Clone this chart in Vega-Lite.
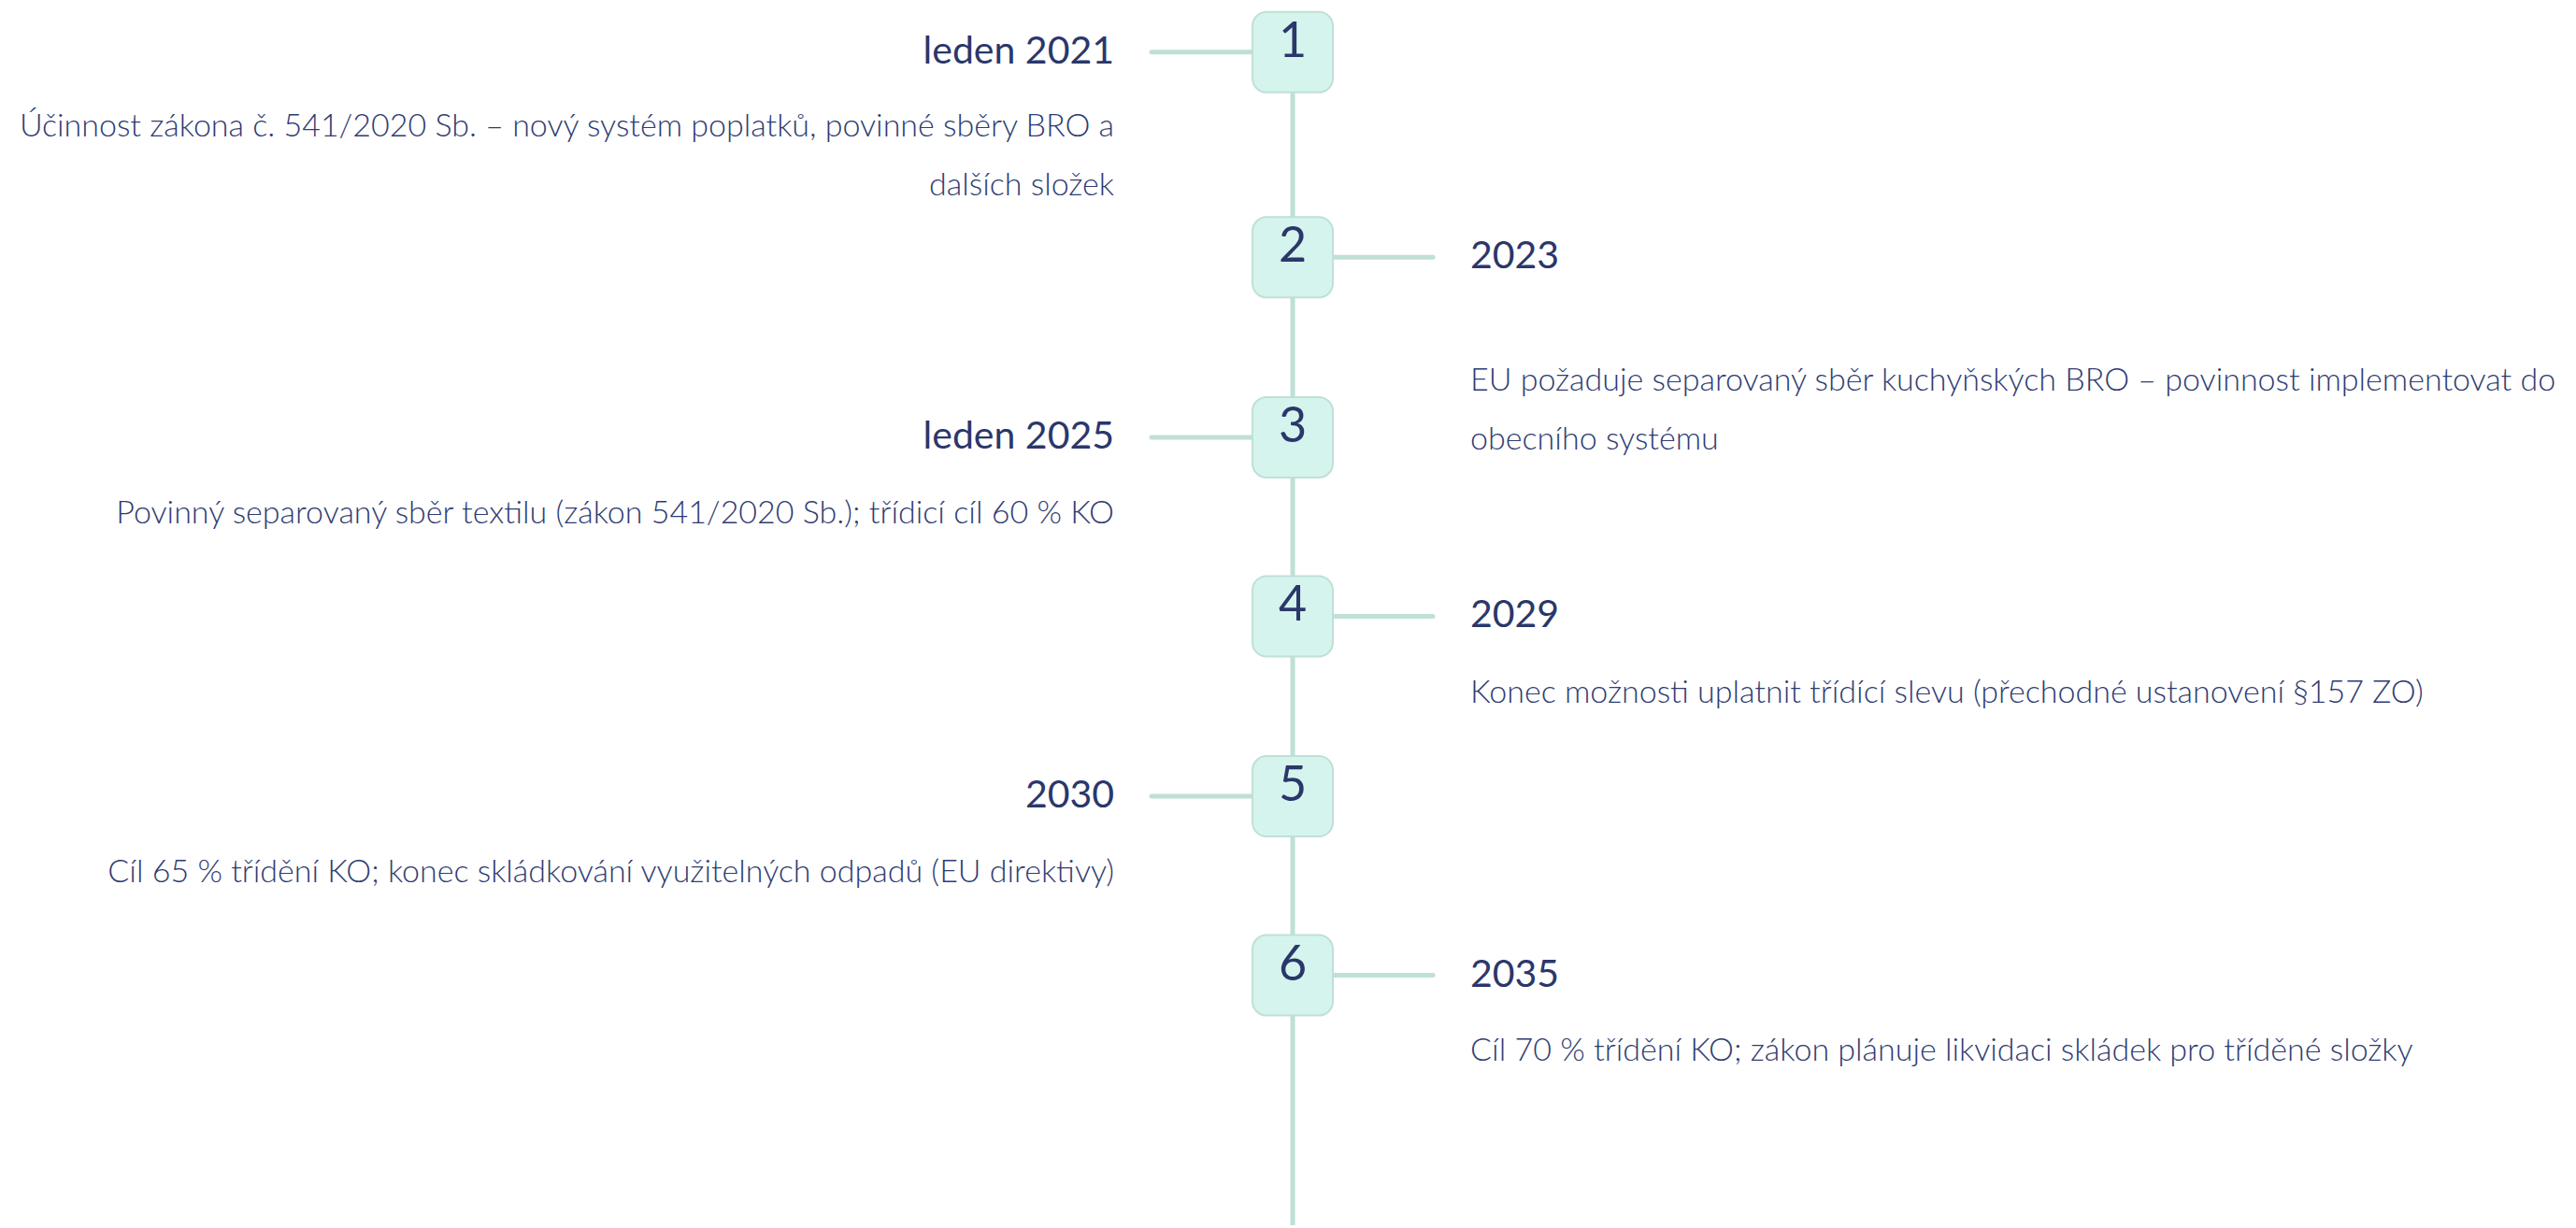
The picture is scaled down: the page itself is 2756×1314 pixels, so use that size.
{
  "$schema": "https://vega.github.io/schema/vega-lite/v6.json",
  "width": 2756,
  "height": 1314,
  "autosize": {"type": "fit", "contains": "padding"},
  "padding": 0,
  "background": "white",
  "config": {"view": {"stroke": null}},
  "datasets": {
    "items": [
      {"n": "1", "title": "leden 2021", "side": "left", "pos": 56, "tx": 1192, "c1": 1232, "c2": 1340},
      {"n": "2", "title": "2023", "side": "right", "pos": 276, "tx": 1573, "c1": 1426, "c2": 1533},
      {"n": "3", "title": "leden 2025", "side": "left", "pos": 469, "tx": 1192, "c1": 1232, "c2": 1340},
      {"n": "4", "title": "2029", "side": "right", "pos": 661, "tx": 1573, "c1": 1426, "c2": 1533},
      {"n": "5", "title": "2030", "side": "left", "pos": 854, "tx": 1192, "c1": 1232, "c2": 1340},
      {"n": "6", "title": "2035", "side": "right", "pos": 1046, "tx": 1573, "c1": 1426, "c2": 1533}
    ],
    "lines": [
      {"side": "left", "pos": 136, "tx": 1192, "text": "Účinnost zákona č. 541/2020 Sb. – nový systém poplatků, povinné sběry BRO a"},
      {"side": "left", "pos": 199, "tx": 1192, "text": "dalších složek"},
      {"side": "right", "pos": 409, "tx": 1573, "text": "EU požaduje separovaný sběr kuchyňských BRO – povinnost implementovat do"},
      {"side": "right", "pos": 472, "tx": 1573, "text": "obecního systému"},
      {"side": "left", "pos": 551, "tx": 1192, "text": "Povinný separovaný sběr textilu (zákon 541/2020 Sb.); třídicí cíl 60 % KO"},
      {"side": "right", "pos": 744, "tx": 1573, "text": "Konec možnosti uplatnit třídící slevu (přechodné ustanovení §157 ZO)"},
      {"side": "left", "pos": 936, "tx": 1192, "text": "Cíl 65 % třídění KO; konec skládkování využitelných odpadů (EU direktivy)"},
      {"side": "right", "pos": 1128, "tx": 1573, "text": "Cíl 70 % třídění KO; zákon plánuje likvidaci skládek pro tříděné složky"}
    ],
    "spine": [{"x": 1383, "y": 56, "y2": 1314}]
  },
  "layer": [
    {
      "data": {"name": "spine"},
      "mark": {"type": "rule", "color": "#bfe0d7", "strokeWidth": 5},
      "encoding": {
        "x": {"field": "x", "type": "quantitative", "scale": {"domain": [0, 2756]}, "axis": null},
        "y": {"field": "y", "type": "quantitative", "scale": {"domain": [0, 1314], "reverse": true}, "axis": null},
        "y2": {"field": "y2"}
      }
    },
    {
      "data": {"name": "items"},
      "mark": {"type": "rule", "color": "#bfe0d7", "strokeWidth": 5, "strokeCap": "round"},
      "encoding": {
        "x": {"field": "c1", "type": "quantitative", "scale": {"domain": [0, 2756]}, "axis": null},
        "x2": {"field": "c2"},
        "y": {"field": "pos", "type": "quantitative", "scale": {"domain": [0, 1314], "reverse": true}, "axis": null}
      }
    },
    {
      "data": {"name": "items"},
      "mark": {"type": "rect", "width": 86, "height": 86, "cornerRadius": 15, "fill": "#d5f4ed", "stroke": "#bfe0d7", "strokeWidth": 2},
      "encoding": {
        "x": {"datum": 1383, "type": "quantitative", "scale": {"domain": [0, 2756]}, "axis": null},
        "y": {"field": "pos", "type": "quantitative", "scale": {"domain": [0, 1314], "reverse": true}, "axis": null}
      }
    },
    {
      "data": {"name": "items"},
      "mark": {"type": "text", "font": "Lato", "fontSize": 52, "color": "#2b376b", "align": "center", "baseline": "middle", "dy": -11},
      "encoding": {
        "x": {"datum": 1383, "type": "quantitative", "scale": {"domain": [0, 2756]}, "axis": null},
        "y": {"field": "pos", "type": "quantitative", "scale": {"domain": [0, 1314], "reverse": true}, "axis": null},
        "text": {"field": "n"}
      }
    },
    {
      "data": {"name": "items"},
      "transform": [{"filter": "datum.side === 'left'"}],
      "mark": {"type": "text", "font": "Lato", "fontSize": 41, "color": "#2b376b", "align": "right", "baseline": "middle"},
      "encoding": {
        "x": {"field": "tx", "type": "quantitative", "scale": {"domain": [0, 2756]}, "axis": null},
        "y": {"field": "pos", "type": "quantitative", "scale": {"domain": [0, 1314], "reverse": true}, "axis": null},
        "text": {"field": "title"}
      }
    },
    {
      "data": {"name": "items"},
      "transform": [{"filter": "datum.side === 'right'"}],
      "mark": {"type": "text", "font": "Lato", "fontSize": 41, "color": "#2b376b", "align": "left", "baseline": "middle"},
      "encoding": {
        "x": {"field": "tx", "type": "quantitative", "scale": {"domain": [0, 2756]}, "axis": null},
        "y": {"field": "pos", "type": "quantitative", "scale": {"domain": [0, 1314], "reverse": true}, "axis": null},
        "text": {"field": "title"}
      }
    },
    {
      "data": {"name": "lines"},
      "transform": [{"filter": "datum.side === 'left'"}],
      "mark": {"type": "text", "font": "Lato", "fontWeight": 300, "fontSize": 34, "color": "#2f3c72", "align": "right", "baseline": "middle"},
      "encoding": {
        "x": {"field": "tx", "type": "quantitative", "scale": {"domain": [0, 2756]}, "axis": null},
        "y": {"field": "pos", "type": "quantitative", "scale": {"domain": [0, 1314], "reverse": true}, "axis": null},
        "text": {"field": "text"}
      }
    },
    {
      "data": {"name": "lines"},
      "transform": [{"filter": "datum.side === 'right'"}],
      "mark": {"type": "text", "font": "Lato", "fontWeight": 300, "fontSize": 34, "color": "#2f3c72", "align": "left", "baseline": "middle"},
      "encoding": {
        "x": {"field": "tx", "type": "quantitative", "scale": {"domain": [0, 2756]}, "axis": null},
        "y": {"field": "pos", "type": "quantitative", "scale": {"domain": [0, 1314], "reverse": true}, "axis": null},
        "text": {"field": "text"}
      }
    }
  ]
}
